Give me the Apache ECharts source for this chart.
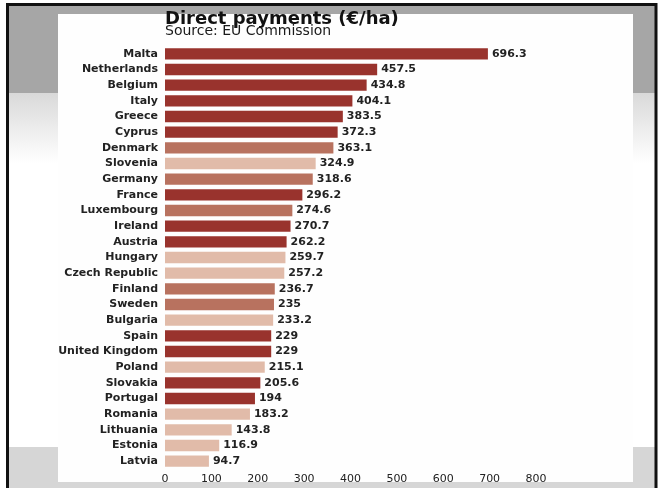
<!DOCTYPE html>
<html>
<head>
<meta charset="utf-8">
<script src="https://cdn.jsdelivr.net/npm/echarts@6/dist/echarts.min.js"></script>
<style>
  html, body { margin: 0; padding: 0; background: #ffffff; }
  #chart { width: 658px; height: 488px; }
</style>
</head>
<body>
<div id="chart"></div>
<script>
// Direct payments per hectare by member state (€/ha)
const countries = [
  'Malta', 'Netherlands', 'Belgium', 'Italy', 'Greece', 'Cyprus', 'Denmark',
  'Slovenia', 'Germany', 'France', 'Luxembourg', 'Ireland', 'Austria', 'Hungary',
  'Czech Republic', 'Finland', 'Sweden', 'Bulgaria', 'Spain', 'United Kingdom',
  'Poland', 'Slovakia', 'Portugal', 'Romania', 'Lithuania', 'Estonia', 'Latvia'
];
const payments = [
  696.3, 457.5, 434.8, 404.1, 383.5, 372.3, 363.1,
  324.9, 318.6, 296.2, 274.6, 270.7, 262.2, 259.7,
  257.2, 236.7, 235, 233.2, 229, 229,
  215.1, 205.6, 194, 183.2, 143.8, 116.9, 94.7
];
// Shade group of each country: 0 = dark, 1 = medium, 2 = light
const shadeGroup = [
  0, 0, 0, 0, 0, 0, 1,
  2, 1, 0, 1, 0, 0, 2,
  2, 1, 1, 2, 0, 0,
  2, 0, 0, 2, 2, 2, 2
];
const xTicks = [0, 100, 200, 300, 400, 500, 600, 700, 800];
const shades = ['#99332d', '#b8725f', '#e1bba9'];

const labelFont = 'DejaVu Sans';

const chart = echarts.init(document.getElementById('chart'), null, { renderer: 'canvas' });

chart.setOption({
  animation: false,
  backgroundColor: '#ffffff',
  graphic: [
    // grey band along the top
    { type: 'rect', z: -10, silent: true, shape: { x: 9, y: 6, width: 646, height: 87 }, style: { fill: '#a6a6a6' } },
    // fade from light grey to white below the band
    { type: 'rect', z: -10, silent: true, shape: { x: 9, y: 93, width: 646, height: 70 },
      style: { fill: new echarts.graphic.LinearGradient(0, 0, 0, 1, [
        { offset: 0, color: '#d9d9d9' }, { offset: 1, color: '#ffffff' }
      ]) } },
    // light grey floor
    { type: 'rect', z: -10, silent: true, shape: { x: 9, y: 447, width: 646, height: 45 }, style: { fill: '#d6d6d6' } },
    // white panel holding the chart
    { type: 'rect', z: -9, silent: true, shape: { x: 58, y: 14, width: 575, height: 468 }, style: { fill: '#fefefe' } },
    // dark frame
    { type: 'rect', z: -8, silent: true, shape: { x: 7.5, y: 4.5, width: 648.5, height: 500 },
      style: { fill: 'none', stroke: '#111111', lineWidth: 3 } }
  ],
  title: {
    text: 'Direct payments (€/ha)',
    subtext: 'Source: EU Commission',
    left: 160,
    top: 5,
    itemGap: -4,
    textStyle: { fontFamily: labelFont, fontWeight: 'bold', fontSize: 18, color: '#111111' },
    subtextStyle: { fontFamily: labelFont, fontSize: 14, color: '#1a1a1a' }
  },
  grid: { left: 165, width: 371, top: 46, bottom: 19, containLabel: false },
  xAxis: {
    type: 'value',
    min: xTicks[0],
    max: xTicks[xTicks.length - 1],
    interval: 100,
    axisLine: { show: false },
    axisTick: { show: false },
    splitLine: { show: false },
    axisLabel: { margin: 5, fontFamily: labelFont, fontSize: 11, color: '#222222' }
  },
  yAxis: {
    type: 'category',
    inverse: true,
    data: countries,
    axisLine: { show: false },
    axisTick: { show: false },
    axisLabel: { margin: 7, fontFamily: labelFont, fontWeight: 'bold', fontSize: 11, color: '#222222' }
  },
  series: [{
    type: 'bar',
    barCategoryGap: '28%',
    data: payments.map((v, i) => ({
      value: v,
      itemStyle: { color: shades[shadeGroup[i]] }
    })),
    label: {
      show: true,
      position: 'right',
      distance: 4,
      fontFamily: labelFont,
      fontWeight: 'bold',
      fontSize: 11,
      color: '#222222'
    }
  }]
});
</script>
</body>
</html>
